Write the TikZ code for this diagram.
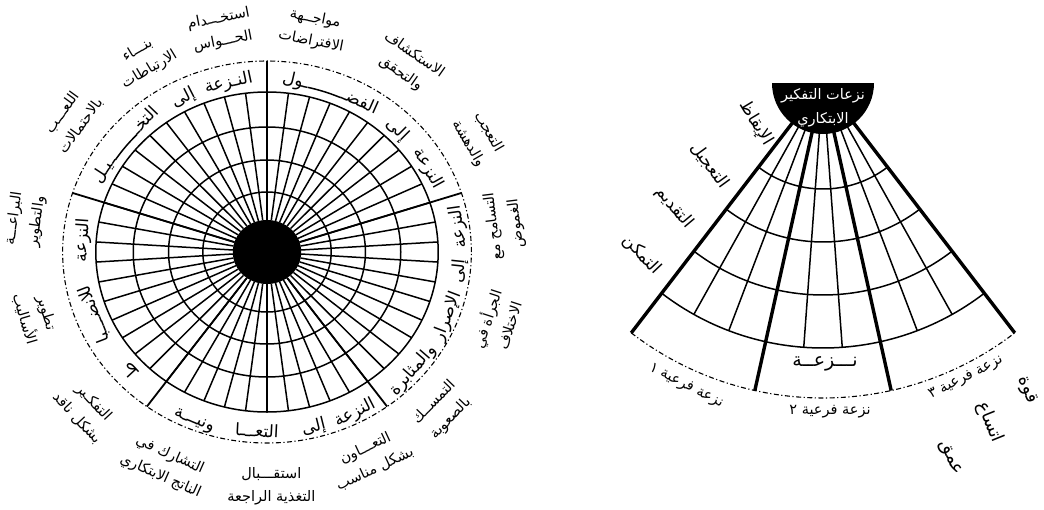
\documentclass[tikz,border=0pt]{standalone}
\usepackage{fontspec}
\newfontfamily\arabicfont[Script=Arabic]{DejaVu Sans}
\TeXXeTstate=1
\newcommand\AR[1]{\beginR #1\endR}
\begin{document}
\begin{tikzpicture}[x=1pt,y=1pt,
  grid/.style={line width=1.5pt},
  divider/.style={line width=1.8pt},
  thickdiv/.style={line width=3.4pt},
  dashdot/.style={line width=1.1pt, dash pattern=on 5pt off 2.5pt on 1.2pt off 2.5pt},
  lbl/.style={font=\arabicfont\fontsize{14.5}{23}\selectfont, align=center, inner sep=0pt},
  ttl/.style={font=\arabicfont\fontsize{17}{20}\selectfont, inner sep=0pt, anchor=base},
  kash/.style={line width=1.5pt},
  fanlbl/.style={font=\arabicfont\fontsize{17}{20}\selectfont, inner sep=0pt},
  sub/.style={font=\arabicfont\fontsize{14.5}{17}\selectfont, inner sep=0pt},
  dim/.style={font=\arabicfont\fontsize{18}{20}\selectfont, inner sep=0pt},
]
\useasboundingbox (0,0) rectangle (1044,-509);

% ================= LEFT WHEEL =================
\begin{scope}[shift={(267,-252)}, xscale=1.07]
  \fill (0,0) circle (32);
  \foreach \r in {60,92,125,160} \draw[grid] (0,0) circle (\r);
  \foreach \i in {0,...,49}{\pgfmathsetmacro\ang{90-7.2*\i}\draw[grid] (\ang:32) -- (\ang:160);}
  \foreach \ang in {90,18,-54,-126,162} \draw[divider] (\ang:32) -- (\ang:191);
  \draw[dashdot] (0,0) circle (191);

  % sector titles
  % imagination (tops outward)
  \node[ttl, rotate=12] (t1a) at (102:168) {\AR{النـزعة}};
  \node[ttl, rotate=27] (t1b) at (117:168) {\AR{إلى}};
  \node[ttl, anchor=base west, rotate=46] (t1c) at (136:168) {\AR{التخـ}};
  \draw[kash] (136:169) arc[start angle=136, end angle=147, radius=169];
  \node[ttl, anchor=base east, rotate=57] (t1d) at (147:168) {\AR{ـيـل}};
  % curiosity (tops outward)
  \node[ttl, rotate=-61] (t2a) at (29:168) {\AR{النزعة}};
  \node[ttl, rotate=-45] (t2b) at (45:168) {\AR{إلى}};
  \node[ttl, anchor=base west, rotate=-24] (t2c) at (66:168) {\AR{الفضـ}};
  \draw[kash] (66:169) arc[start angle=66, end angle=77, radius=169];
  \node[ttl, anchor=base east, rotate=-13] (t2d) at (77:168) {\AR{ـول}};
  % persistence (tops inward)
  \node[ttl, rotate=98] (t3a) at (8:185) {\AR{النزعة}};
  \node[ttl, rotate=84] (t3b) at (-6:185) {\AR{إلى}};
  \node[ttl, rotate=69] (t3c) at (-21:185) {\AR{الإصرار}};
  \node[ttl, rotate=49] (t3d) at (-41:185) {\AR{والمثابرة}};
  % collaboration (tops inward)
  \node[ttl, rotate=27] (t4a) at (-63:185) {\AR{النزعة}};
  \node[ttl, rotate=14] (t4b) at (-76:185) {\AR{إلى}};
  \node[ttl, rotate=-3] (t4c) at (-93:185) {\AR{التعـــا}};
  \node[ttl, rotate=-22] (t4d) at (-112:185) {\AR{ونيـــة}};
  % discipline (tops outward)
  \node[ttl, rotate=86] (t5a) at (176:168) {\AR{النزعة}};
  \node[ttl, rotate=111] (t5b) at (201:168) {\AR{للانضـــبا}};
  \node[ttl, rotate=133] (t5c) at (223:168) {\AR{ط}};

  % outer labels
  \node[lbl, rotate=11] (l1) at (101:226) {\AR{استخـــدام}\\\AR{الحـــواس}};
  \node[lbl, rotate=-11] (l2) at (79:226) {\AR{مواجــهة}\\\AR{الافتراضات}};
  \node[lbl, rotate=31] (l3) at (121:224) {\AR{بنـــاء}\\\AR{الارتباطات}};
  \node[lbl, rotate=54] (l4) at (144:226) {\AR{اللعـــب}\\\AR{بالاحتمالات}};
  \node[lbl, rotate=82] (l5) at (172:228) {\AR{البراعـــة}\\\AR{والتطوير}};
  \node[lbl, rotate=-73.5] (l6) at (196.5:226) {\AR{تطوير}\\\AR{الأساليب}};
  \node[lbl, rotate=-47] (l7) at (-137:232) {\AR{التفكـير}\\\AR{بشكل ناقد}};
  \node[lbl, rotate=-24] (l8) at (-114:234) {\AR{التشارك في}\\\AR{الناتج الابتكاري}};
  \node[lbl, rotate=0] (l9) at (-89:234) {\AR{استقـــبال}\\\AR{التغذية الراجعة}};
  \node[lbl, rotate=25] (l10) at (-65:228) {\AR{التعـــاون}\\\AR{بشكل مناسب}};
  \node[lbl, rotate=46] (l11) at (-44:228) {\AR{التمســك}\\\AR{بالصعوبة}};
  \node[lbl, rotate=72] (l12) at (-18:226) {\AR{الجرأة في}\\\AR{الاختلاف}};
  \node[lbl, rotate=97] (l13) at (7:224) {\AR{التسامح مع}\\\AR{الغموض}};
  \node[lbl, rotate=-60] (l14) at (30:228) {\AR{التعجب}\\\AR{والدهشة}};
  \node[lbl, rotate=-35] (l15) at (55:229) {\AR{الاستكشاف}\\\AR{والتحقق}};
\end{scope}

% ================= RIGHT FAN =================
\begin{scope}[shift={(823,-83)}]
  \fill (-51,0) arc[start angle=180, end angle=360, radius=51] -- cycle;
  \foreach \k in {1,2,4,5,7,8}{\pgfmathsetmacro\ang{-127.5+8.3333*\k}\draw[grid] (\ang:50) -- (\ang:265);}
  \foreach \k in {0,3,6,9}{\pgfmathsetmacro\ang{-127.5+8.3333*\k}\draw[thickdiv] (\ang:50) -- (\ang:315);}
  \foreach \r in {106,159,212,265} \draw[grid] (-127.5:\r) arc[start angle=-127.5, end angle=-52.5, radius=\r];
  \draw[dashdot] (-127.5:315) arc[start angle=-127.5, end angle=-52.5, radius=315];
  \node[font=\arabicfont\fontsize{14.5}{24}\selectfont, text=white, align=center, inner sep=0pt] (dome) at (0,-25) {\AR{نزعات التفكير}\\\AR{الابتكاري}};
  \node[fanlbl, rotate=-59] (f1) at (-149:78) {\AR{الإيقاظ}};
  \node[fanlbl, rotate=-54] (f2) at (-144:140) {\AR{التعجيل}};
  \node[fanlbl, rotate=-50] (f3) at (-140:194) {\AR{التقديم}};
  \node[fanlbl, rotate=-46.5] (f4) at (-136.5:250) {\AR{التمكن}};
\end{scope}

\node[font=\arabicfont\fontsize{19}{24}\selectfont, inner sep=0pt] (nz) at (825,-364) {\AR{نـــزعــة}};
\node[sub, rotate=-27] (s1) at (686,-386) {\AR{نزعة فرعية ١}};
\node[sub] (s2) at (830,-412) {\AR{نزعة فرعية ٢}};
\node[sub, rotate=27] (s3) at (966,-378) {\AR{نزعة فرعية ٣}};
\node[dim, rotate=-68] (w1) at (950,-458) {\AR{عمق}};
\node[dim, rotate=-68] (w2) at (990,-422) {\AR{اتساع}};
\node[dim, rotate=-68] (w3) at (1027,-390) {\AR{قوة}};
\end{tikzpicture}
\end{document}
